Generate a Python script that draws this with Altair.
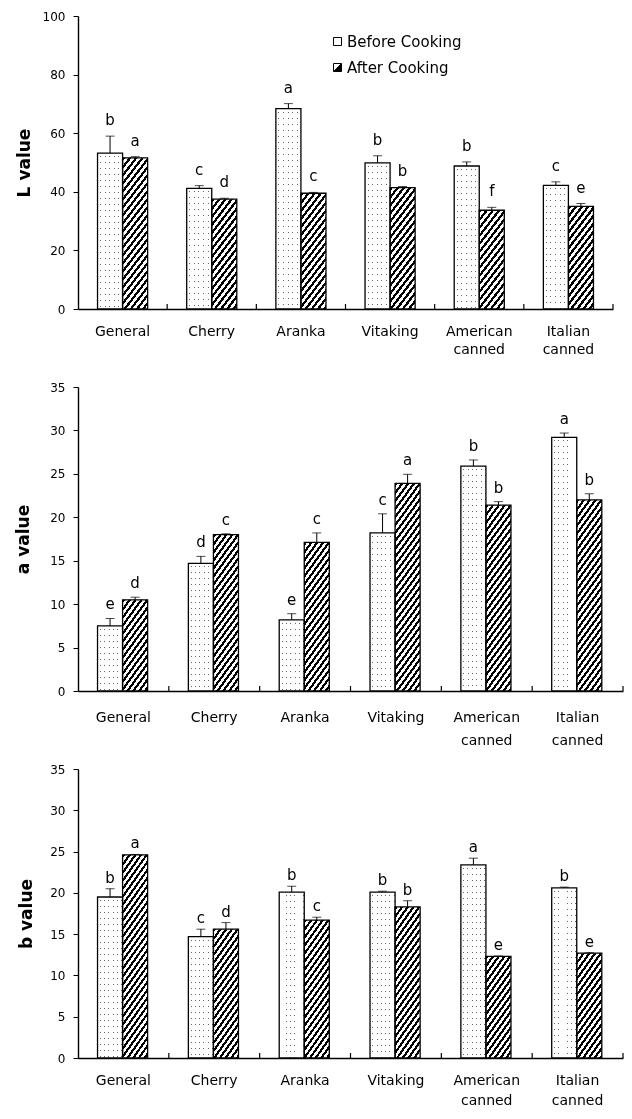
import altair as alt

cats = ["General", "Cherry", "Aranka", "Vitaking", "American canned", "Italian canned"]
phases = ["Before Cooking", "After Cooking"]

L_before = [53.2, 41.2, 68.4, 49.9, 48.8, 42.2]
L_before_err = [5.8, 0.9, 1.7, 2.4, 1.4, 1.2]
L_before_sig = ["b", "c", "a", "b", "b", "c"]
L_after = [51.6, 37.5, 39.5, 41.4, 33.7, 35.0]
L_after_err = [0.4, 0.3, 0.3, 0.4, 1.0, 1.0]
L_after_sig = ["a", "d", "c", "b", "f", "e"]

a_before = [7.5, 14.7, 8.2, 18.2, 25.9, 29.2]
a_before_err = [0.85, 0.8, 0.7, 2.2, 0.7, 0.5]
a_before_sig = ["e", "d", "e", "c", "b", "a"]
a_after = [10.5, 18.0, 17.1, 23.9, 21.4, 22.0]
a_after_err = [0.3, 0.1, 1.1, 1.05, 0.4, 0.7]
a_after_sig = ["d", "c", "c", "a", "b", "b"]

b_before = [19.5, 14.7, 20.1, 20.1, 23.4, 20.6]
b_before_err = [1.0, 0.9, 0.7, 0.1, 0.8, 0.1]
b_before_sig = ["b", "c", "b", "b", "a", "b"]
b_after = [24.6, 15.6, 16.7, 18.3, 12.3, 12.7]
b_after_err = [0.05, 0.8, 0.35, 0.75, 0.05, 0.05]
b_after_sig = ["a", "d", "c", "b", "e", "e"]

FONT = "DejaVu Sans"


def stripe_stops(length, period, on, on_color, off_color, start=0.0):
    """Hard-edged repeating stripes along a gradient of `length` pixels."""
    stops = [{"offset": 0, "color": off_color}]
    pos = start
    while pos < length:
        a = max(pos, 0) / length
        b = min(pos + on, length) / length
        stops += [{"offset": a, "color": off_color}, {"offset": a, "color": on_color},
                  {"offset": b, "color": on_color}, {"offset": b, "color": off_color}]
        pos += period
    stops.append({"offset": 1, "color": off_color})
    return stops


def hatch(w, h, period=8.0, dark=0.47, slope=1.3):
    """Diagonal hatch as a linear gradient with hard stops (bbox units)."""
    h = max(h, 1.0)
    L = slope * w + h
    den = slope * slope * w * w + h * h
    return {"gradient": "linear", "x1": 0, "y1": 0,
            "x2": slope * w * L / den, "y2": h * L / den,
            "stops": stripe_stops(L, period, dark * period, "black", "white")}


def dot_rows(h, period=6.0):
    h = max(h, 1.0)
    return {"gradient": "linear", "x1": 0, "y1": 0, "x2": 0, "y2": 1,
            "stops": stripe_stops(h, period, 1.0, "#666666", "white", start=3.0)}


def dot_cols(w, period=4.6):
    return {"gradient": "linear", "x1": 0, "y1": 0, "x2": 1, "y2": 0,
            "stops": stripe_stops(w, period, 1.0, "#666666", "white", start=2.5)}


LEGEND_HATCH = (
    "{gradient: 'linear', x1: 0, y1: 0, x2: 1, y2: 1, stops: ["
    "{offset: 0, color: 'white'}, {offset: 0.45, color: 'white'},"
    "{offset: 0.45, color: 'black'}, {offset: 1, color: 'black'}]}"
)


def panel(vb, eb, sb, va, ea, sa, ymax, yticks, title, W, H, pad_outer,
          label_pad, line_h, title_x, letter_gap, legend=False):
    step = W / len(cats)
    bw = step / (2 + 2 * pad_outer)
    ppu = H / ymax
    rows = []
    for i, c in enumerate(cats):
        rows.append({"cat": c, "phase": phases[0], "value": vb[i], "top": vb[i] + eb[i],
                     "sig": sb[i], "fill": dot_rows(vb[i] * ppu), "cols": dot_cols(bw)})
        rows.append({"cat": c, "phase": phases[1], "value": va[i], "top": va[i] + ea[i],
                     "sig": sa[i], "fill": hatch(bw, va[i] * ppu), "cols": "white"})
    data = alt.Data(values=rows)

    xscale = alt.Scale(domain=cats, paddingInner=0, paddingOuter=0)
    xaxis = alt.Axis(title=None, labelAngle=0, ticks=False, labelPadding=label_pad,
                     labelExpr="split(datum.label, ' ')", labelLineHeight=line_h,
                     labelFontSize=14, labelFont=FONT, labelColor="black",
                     labelBaseline="top", domainColor="black", domainWidth=1.4)
    yscale = alt.Scale(domain=[0, ymax], nice=False, zero=True)
    yaxis = alt.Axis(values=yticks, title=title, grid=False, tickSize=5, labelPadding=8,
                     tickColor="black", domainColor="black", domainWidth=1.4,
                     labelColor="black", labelFont=FONT, labelFontSize=12,
                     titleFont=FONT, titleFontSize=17, titleFontWeight="bold",
                     titleColor="black", titleX=title_x, titleY=H / 2,
                     titleAngle=270, titleAlign="center", titleBaseline="middle")

    base = alt.Chart(data).encode(
        x=alt.X("cat:N", sort=cats, scale=xscale, axis=xaxis),
        xOffset=alt.XOffset("phase:N", sort=phases,
                            scale=alt.Scale(domain=phases, paddingInner=0, paddingOuter=pad_outer)),
        y=alt.Y("value:Q", scale=yscale, axis=yaxis),
    )
    fills = base.mark_bar(strokeWidth=0).encode(fill=alt.Fill("fill:N", scale=None))
    dots = base.transform_filter(alt.datum.phase == phases[0]).mark_bar(
        strokeWidth=0, blend="lighten").encode(fill=alt.Fill("cols:N", scale=None))
    outline = base.mark_bar(fillOpacity=0, stroke="black", strokeWidth=1.3)
    err = base.mark_rule(color="black", strokeWidth=1).encode(y="value:Q", y2="top:Q")
    cap = base.mark_tick(color="black", thickness=1, size=9, orient="horizontal").encode(y="top:Q")
    sig = base.mark_text(baseline="alphabetic", dy=-letter_gap, fontSize=15, font=FONT,
                         color="black").encode(y="top:Q", text="sig:N")
    seps = alt.Chart(alt.Data(values=[{"cat": c} for c in cats])).mark_rule(
        color="black", strokeWidth=1.2).encode(
        x=alt.X("cat:N", sort=cats, bandPosition=1),
        y=alt.value(H), y2=alt.value(H - 5),
    )
    layers = [fills, dots, outline, err, cap, sig, seps]
    if legend:
        leg = alt.Chart(alt.Data(values=[{"phase": p} for p in phases])).transform_filter(
            "false").mark_square(opacity=1, filled=True).encode(
            color=alt.Color("phase:N", sort=phases,
                            scale=alt.Scale(domain=phases,
                                            range=["white", alt.ExprRef(expr=LEGEND_HATCH)]),
                            legend=alt.Legend(title=None, orient="none", legendX=252, legendY=18,
                                              symbolType="square", symbolSize=64,
                                              symbolStrokeColor="black", symbolStrokeWidth=1,
                                              labelFont=FONT, labelFontSize=15,
                                              labelColor="black", rowPadding=10,
                                              labelOffset=2))
        )
        layers.append(leg)
    return alt.layer(*layers).properties(width=W, height=H)


p1 = panel(L_before, L_before_err, L_before_sig, L_after, L_after_err, L_after_sig,
           100, [0, 20, 40, 60, 80, 100], "L value", 535, 293, 0.78, 15, 18, -54, 11,
           legend=True)
p2 = panel(a_before, a_before_err, a_before_sig, a_after, a_after_err, a_after_sig,
           35, [0, 5, 10, 15, 20, 25, 30, 35], "a value", 545, 304, 0.72, 19, 23, -55, 9)
p3 = panel(b_before, b_before_err, b_before_sig, b_after, b_after_err, b_after_sig,
           35, [0, 5, 10, 15, 20, 25, 30, 35], "b value", 545, 289, 0.68, 15, 20, -52, 6)

chart = alt.vconcat(p1, p2, p3, spacing=78, bounds="flush").properties(
    padding={"left": 6, "top": 2, "right": 0, "bottom": 0}
).configure_view(stroke=None)

chart.save("out.html", embed_options={"renderer": "svg", "actions": False})
